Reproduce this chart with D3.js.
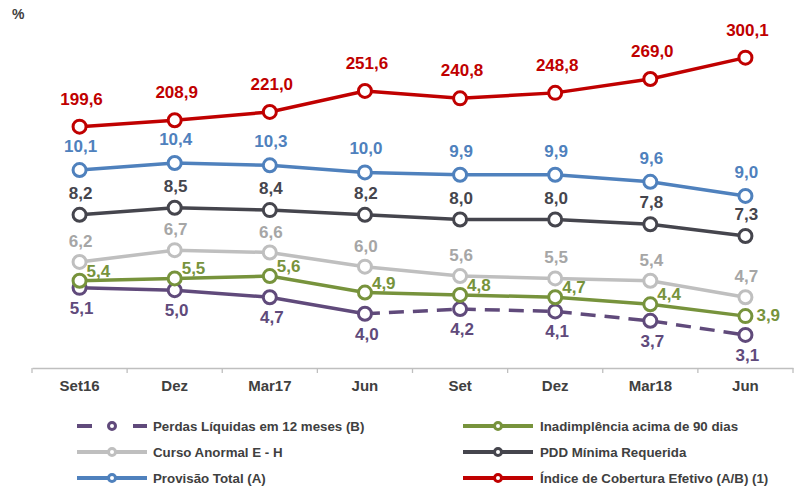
<!DOCTYPE html>
<html><head><meta charset="utf-8">
<script src="https://cdn.jsdelivr.net/npm/d3@7"></script>
<style>
body{margin:0;background:#fff;}
svg{font-family:"Liberation Sans",Arial,sans-serif;}
</style></head>
<body>
<svg id="c" width="794" height="487"></svg>
<script>
const categories = ["Set16","Dez","Mar17","Jun","Set","Dez","Mar18","Jun"];
const perdas    = [5.1,5.0,4.7,4.0,4.2,4.1,3.7,3.1];
const inad      = [5.4,5.5,5.6,4.9,4.8,4.7,4.4,3.9];
const curso     = [6.2,6.7,6.6,6.0,5.6,5.5,5.4,4.7];
const pdd       = [8.2,8.5,8.4,8.2,8.0,8.0,7.8,7.3];
const provisao  = [10.1,10.4,10.3,10.0,9.9,9.9,9.6,9.0];
const indice    = [199.6,208.9,221.0,251.6,240.8,248.8,269.0,300.1];
const seriesNames = ["Perdas Líquidas em 12 meses (B)","Inadimplência acima de 90 dias","Curso Anormal E - H","PDD Mínima Requerida","Provisão Total (A)","Índice de Cobertura Efetivo (A/B) (1)"];

const fmt = v => d3.format(".1f")(v).replace(".", ",");
const svg = d3.select("#c");

const x = d3.scaleBand().domain(d3.range(categories.length)).range([32, 793]).padding(0);
const cx = i => x(i) + x.bandwidth()/2;
const yL = d3.scaleLinear().domain([0, 14]).range([408, 408 - 14*23.56]);
const yR = d3.scaleLinear().domain([0, 350]).range([263.7, 263.7 - 350*0.6866]);

const series = [
  {name: seriesNames[0], data: perdas,   y: yL, color:"#604a7b", label:"#604a7b", anchor:"middle", dx:2, dy:26, dashFrom:3},
  {name: seriesNames[1], data: inad,     y: yL, color:"#77933c", label:"#77933c", anchor:"start", dx:7, dy:-4},
  {name: seriesNames[2], data: curso,    y: yL, color:"#bfbfbf", label:"#a6a6a6", anchor:"middle", dx:1, dy:-15},
  {name: seriesNames[3], data: pdd,      y: yL, color:"#45454d", label:"#45454d", anchor:"middle", dx:1, dy:-16},
  {name: seriesNames[4], data: provisao, y: yL, color:"#4f81bd", label:"#4f81bd", anchor:"middle", dx:1, dy:-18},
  {name: seriesNames[5], data: indice,   y: yR, color:"#c00000", label:"#c00000", anchor:"middle", dx:2, dy:-22}
];

// "%"
svg.append("text").attr("x", 12).attr("y", 19).attr("font-size", 14).attr("font-weight", "bold")
  .attr("fill", "#404040").text("%");

// axis
const axisY = 368;
const ax = svg.append("g").attr("transform", `translate(0,${axisY})`)
  .call(d3.axisBottom(x).tickSize(0).tickPadding(12).tickFormat(i => categories[i]));
ax.select(".domain").attr("stroke", "#bfbfbf").attr("stroke-width", 1.3);
ax.selectAll("text").attr("font-size", 15).attr("font-weight", "bold").attr("fill", "#404040")
  .attr("font-family", '"Liberation Sans",Arial,sans-serif');
const bounds = d3.range(categories.length).map(i => x(i)).concat([x.range()[1]]);
ax.selectAll(".bt").data(bounds).join("line").attr("class","bt")
  .attr("x1", d => d).attr("x2", d => d).attr("y1", 0).attr("y2", 5)
  .attr("stroke", "#bfbfbf").attr("stroke-width", 1.3);

series.forEach(s => {
  const g = svg.append("g");
  const pts = s.data.map((v,i) => ({v, i}));
  const ln = d3.line().x(d => cx(d.i)).y(d => s.y(d.v));
  if (s.dashFrom !== undefined) {
    g.append("path").attr("d", ln(pts.slice(0, s.dashFrom+1))).attr("fill","none")
      .attr("stroke", s.color).attr("stroke-width", 3.5);
    g.append("path").attr("d", ln(pts.slice(s.dashFrom))).attr("fill","none")
      .attr("stroke", s.color).attr("stroke-width", 3.5).attr("stroke-dasharray", "15,9");
  } else {
    g.append("path").attr("d", ln(pts)).attr("fill","none")
      .attr("stroke", s.color).attr("stroke-width", 3.5);
  }
  g.selectAll("circle").data(pts).join("circle")
    .attr("cx", d => cx(d.i)).attr("cy", d => s.y(d.v)).attr("r", 6.5)
    .attr("fill", "#fff").attr("stroke", s.color).attr("stroke-width", 3);
});

// labels on top
series.forEach(s => {
  const pts = s.data.map((v,i) => ({v, i}));
  const isLastGreen = d => s.name === seriesNames[1] && d.i === pts.length-1;
  svg.append("g").selectAll("text").data(pts).join("text")
    .attr("x", d => cx(d.i) + (isLastGreen(d) ? 11 : s.dx))
    .attr("y", d => s.y(d.v) + (isLastGreen(d) ? 5 : s.dy))
    .attr("text-anchor", s.anchor)
    .attr("font-size", 17).attr("font-weight", "bold").attr("fill", s.label)
    .text(d => fmt(d.v));
});

// legend
const legCols = [{x0: 77, x1: 147, tx: 153}, {x0: 463, x1: 533, tx: 540}];
const legRows = [426, 452, 478];
series.forEach((s, k) => {
  const col = legCols[k % 2], row = legRows[Math.floor(k / 2)];
  const g = svg.append("g");
  g.append("line").attr("x1", col.x0).attr("x2", col.x1).attr("y1", row).attr("y2", row)
    .attr("stroke", s.color).attr("stroke-width", 4)
    .attr("stroke-dasharray", s.dashFrom !== undefined ? "15,41" : null);
  g.append("circle").attr("cx", (col.x0 + col.x1)/2).attr("cy", row).attr("r", 3.5)
    .attr("fill", "#fff").attr("stroke", s.color).attr("stroke-width", 3);
  g.append("text").attr("x", col.tx).attr("y", row + 4.8).attr("font-size", 13.3)
    .attr("font-weight", "bold").attr("fill", "#404040").text(s.name);
});
</script>
</body></html>
